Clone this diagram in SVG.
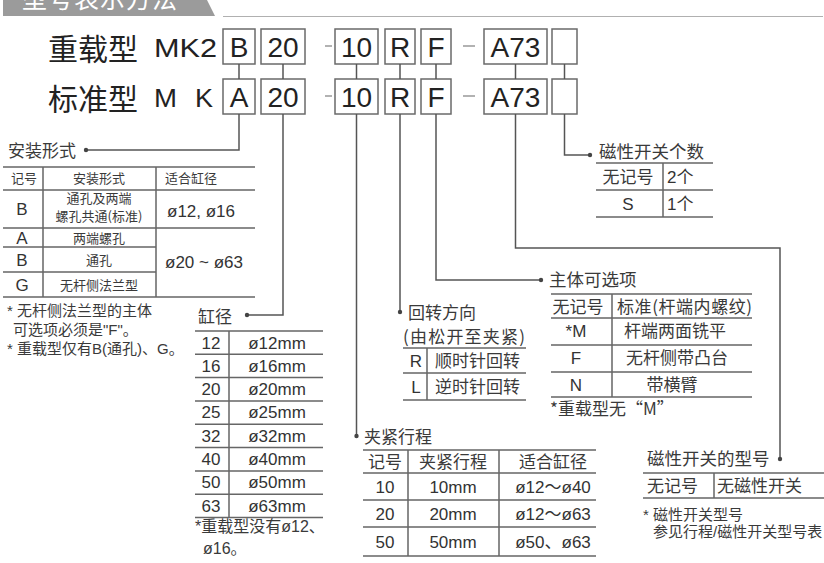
<svg xmlns="http://www.w3.org/2000/svg" width="824" height="563" viewBox="0 0 824 563">
<style>
.ln{stroke:#555;stroke-width:1.5;fill:none}
.tb{stroke:#666;stroke-width:1.5;fill:none}
.box{fill:#fff;stroke:#6a6a6a;stroke-width:1.5}
.dash{stroke:#999;stroke-width:1.5}
.bt{font-family:"Liberation Sans",Arial,sans-serif;font-size:28px;fill:#222;text-anchor:middle}
.big{font-family:"Noto Sans CJK SC",sans-serif;font-size:30px;fill:#222}
.lat{font-family:"Liberation Sans",Arial,sans-serif;font-size:26px;fill:#222}
.cj{font-family:"Noto Sans CJK SC",sans-serif;font-size:17px;fill:#3a3a3a}
.cjl{font-family:"Noto Sans CJK SC",sans-serif;font-size:17.5px;fill:#3a3a3a}
.sm{font-family:"Noto Sans CJK SC",sans-serif;font-size:13px;fill:#3a3a3a}
.nt{font-family:"Liberation Sans","Noto Sans CJK SC",sans-serif;font-size:15px;fill:#3a3a3a}
.nt16{font-family:"Liberation Sans","Noto Sans CJK SC",sans-serif;font-size:16px;fill:#3a3a3a}
.n{font-family:"Liberation Sans","Noto Sans CJK SC",sans-serif;font-size:17px;fill:#333}
.c{text-anchor:middle}
</style>
<defs>
<circle id="dot" r="2.2" fill="#444"/>
</defs>

<g id="header">
<path d="M3 0 H207 L215 16 H3 Z" fill="#9b9b9b"/>
<line x1="223" y1="16.5" x2="823" y2="16.5" stroke="#b0b0b0" stroke-width="1.2"/>
<text x="22" y="8" font-family="Noto Sans CJK SC,sans-serif" font-size="25" fill="#fff" textLength="155">型号表示方法</text>
</g>

<g id="code-row1">
<text class="big" x="48" y="60">重载型</text>
<text class="lat" x="154" y="57" textLength="63" lengthAdjust="spacingAndGlyphs">MK2</text>
<rect class="box" x="223" y="29" width="32" height="35"/><text class="bt" x="239" y="56.5">B</text>
<rect class="box" x="261" y="29" width="44" height="35"/><text class="bt" x="283" y="56.5">20</text>
<line class="dash" x1="325" y1="46" x2="332" y2="46"/>
<rect class="box" x="335" y="29" width="43" height="35"/><text class="bt" x="356.5" y="56.5">10</text>
<rect class="box" x="385" y="29" width="30" height="35"/><text class="bt" x="400" y="56.5">R</text>
<rect class="box" x="421" y="29" width="30" height="35"/><text class="bt" x="436" y="56.5">F</text>
<line class="dash" x1="463" y1="46" x2="475" y2="46"/>
<rect class="box" x="484" y="29" width="63" height="35"/><text class="bt" x="515.5" y="56.5">A73</text>
<rect class="box" x="552" y="29" width="25" height="35"/>
</g>

<g id="code-row2">
<text class="big" x="48" y="110">标准型</text>
<text class="lat" x="154" y="107" textLength="23" lengthAdjust="spacingAndGlyphs">M</text>
<text class="lat" x="195" y="107" textLength="18" lengthAdjust="spacingAndGlyphs">K</text>
<rect class="box" x="223" y="79" width="32" height="35"/><text class="bt" x="239" y="106.5">A</text>
<rect class="box" x="261" y="79" width="44" height="35"/><text class="bt" x="283" y="106.5">20</text>
<line class="dash" x1="325" y1="96" x2="332" y2="96"/>
<rect class="box" x="335" y="79" width="43" height="35"/><text class="bt" x="356.5" y="106.5">10</text>
<rect class="box" x="385" y="79" width="30" height="35"/><text class="bt" x="400" y="106.5">R</text>
<rect class="box" x="421" y="79" width="30" height="35"/><text class="bt" x="436" y="106.5">F</text>
<line class="dash" x1="463" y1="96" x2="475" y2="96"/>
<rect class="box" x="484" y="79" width="63" height="35"/><text class="bt" x="515.5" y="106.5">A73</text>
<rect class="box" x="552" y="79" width="25" height="35"/>
</g>

<g id="connectors">
<line class="ln" x1="239" y1="64" x2="239" y2="79"/>
<line class="ln" x1="283" y1="64" x2="283" y2="79"/>
<line class="ln" x1="356.5" y1="64" x2="356.5" y2="79"/>
<line class="ln" x1="400" y1="64" x2="400" y2="79"/>
<line class="ln" x1="436" y1="64" x2="436" y2="79"/>
<line class="ln" x1="515.5" y1="64" x2="515.5" y2="79"/>
<line class="ln" x1="564.5" y1="64" x2="564.5" y2="79"/>
<path class="ln" d="M239 114 V150 H86"/><use href="#dot" x="86" y="150"/>
<path class="ln" d="M283 114 V315 H247"/><use href="#dot" x="247" y="315"/>
<path class="ln" d="M356.5 114 V436"/><use href="#dot" x="356.5" y="436"/>
<path class="ln" d="M400 114 V312"/><use href="#dot" x="400" y="312"/>
<path class="ln" d="M436 114 V280 H541"/><use href="#dot" x="541" y="280"/>
<path class="ln" d="M515.5 114 V248 H780 V459"/><use href="#dot" x="780" y="459"/>
<path class="ln" d="M564.5 114 V155 H590"/><use href="#dot" x="590" y="155"/>
</g>

<g id="mounting">
<text class="cj" x="8" y="157">安装形式</text>
<path class="tb" d="M3 167 H255 M3 190 H255 M3 228 H255 M3 247 H156 M3 272 H156 M3 297 H255 M43 167 V297 M156 167 V297"/>
<text class="sm c" x="24" y="183">记号</text>
<text class="sm c" x="99" y="183">安装形式</text>
<text class="sm" x="165" y="183">适合缸径</text>
<text class="n c" x="22" y="215">B</text>
<text class="sm c" x="99" y="203">通孔及两端</text>
<text class="sm c" x="99" y="221">螺孔共通(标准)</text>
<text class="n" x="167" y="217">ø12, ø16</text>
<text class="n c" x="22" y="244">A</text>
<text class="sm c" x="99" y="243">两端螺孔</text>
<text class="n c" x="22" y="266">B</text>
<text class="sm c" x="99" y="265">通孔</text>
<text class="n c" x="22" y="291">G</text>
<text class="sm c" x="99" y="290">无杆侧法兰型</text>
<text class="n" x="165" y="268">ø20 ~ ø63</text>
<text class="nt" x="7" y="316">* 无杆侧法兰型的主体</text>
<text class="nt" x="13" y="335">可选项必须是"F"。</text>
<text class="nt" x="7" y="354">* 重载型仅有B(通孔)、G。</text>
</g>

<g id="bore">
<text class="cj" x="198" y="323">缸径</text>
<path class="tb" d="M195 331 H323 M195 354.3 H323 M195 377.6 H323 M195 401 H323 M195 424.3 H323 M195 447.6 H323 M195 471 H323 M195 494.3 H323 M195 517.6 H323 M229 331 V517.6"/>
<text class="n c" x="211" y="348.5">12</text><text class="n c" x="277" y="348.5">ø12mm</text>
<text class="n c" x="211" y="371.8">16</text><text class="n c" x="277" y="371.8">ø16mm</text>
<text class="n c" x="211" y="395.1">20</text><text class="n c" x="277" y="395.1">ø20mm</text>
<text class="n c" x="211" y="418.4">25</text><text class="n c" x="277" y="418.4">ø25mm</text>
<text class="n c" x="211" y="441.7">32</text><text class="n c" x="277" y="441.7">ø32mm</text>
<text class="n c" x="211" y="465">40</text><text class="n c" x="277" y="465">ø40mm</text>
<text class="n c" x="211" y="488.3">50</text><text class="n c" x="277" y="488.3">ø50mm</text>
<text class="n c" x="211" y="511.6">63</text><text class="n c" x="277" y="511.6">ø63mm</text>
<text class="nt16" x="195" y="532">*重载型没有ø12、</text>
<text class="nt16" x="203" y="554">ø16。</text>
</g>

<g id="rotation">
<text class="cj" x="408" y="319">回转方向</text>
<text class="cj" x="403" y="343" textLength="122">(由松开至夹紧)</text>
<path class="tb" d="M403 348 H526 M403 373 H526 M403 400 H526 M427 348 V400"/>
<text class="n c" x="416" y="367">R</text><text class="cj" x="435" y="367">顺时针回转</text>
<text class="n c" x="416" y="393">L</text><text class="cj" x="435" y="393">逆时针回转</text>
</g>

<g id="body-option">
<text class="cjl" x="549" y="286">主体可选项</text>
<path class="tb" d="M551 294 H752 M551 318 H752 M551 345 H752 M551 372 H752 M551 397 H752 M612 294 V397"/>
<text class="cj c" x="578" y="313">无记号</text>
<text class="cj" x="617" y="313" textLength="135">标准(杆端内螺纹)</text>
<text class="n c" x="576" y="337">*M</text><text class="cj c" x="675" y="337">杆端两面铣平</text>
<text class="n c" x="576" y="364">F</text><text class="cj c" x="677" y="364">无杆侧带凸台</text>
<text class="n c" x="576" y="391">N</text><text class="cj c" x="672" y="391">带横臂</text>
<text class="cj" x="550" y="415">*重载型无“M”</text>
</g>

<g id="switch-count">
<text class="cjl" x="599" y="158">磁性开关个数</text>
<path class="tb" d="M596 163 H713 M596 190 H713 M596 217 H713 M663 163 V217"/>
<text class="cj c" x="628" y="183">无记号</text><text class="n" x="667" y="183">2个</text>
<text class="n c" x="628" y="210">S</text><text class="n" x="667" y="210">1个</text>
</g>

<g id="stroke">
<text class="cj" x="364" y="443">夹紧行程</text>
<path class="tb" d="M363 450 H596 M363 473 H596 M363 500 H596 M363 527 H596 M363 556 H596 M408 450 V556 M499 450 V556"/>
<text class="cj c" x="385" y="468">记号</text><text class="cj c" x="453" y="468">夹紧行程</text><text class="cj c" x="553" y="468">适合缸径</text>
<text class="n c" x="385" y="492.5">10</text><text class="n c" x="453" y="492.5">10mm</text><text class="n c" x="553" y="492.5">ø12～ø40</text>
<text class="n c" x="385" y="519.5">20</text><text class="n c" x="453" y="519.5">20mm</text><text class="n c" x="553" y="519.5">ø12～ø63</text>
<text class="n c" x="385" y="547.5">50</text><text class="n c" x="453" y="547.5">50mm</text><text class="n c" x="553" y="547.5">ø50、ø63</text>
</g>

<g id="switch-type">
<text class="cjl" x="647" y="465">磁性开关的型号</text>
<path class="tb" d="M643 473 H824 M643 498 H824 M714 473 V498"/>
<text class="cj" x="647" y="492">无记号</text><text class="cj" x="717" y="492">无磁性开关</text>
<text class="nt" x="643" y="520">* 磁性开关型号</text>
<text class="nt" x="653" y="537">参见行程/磁性开关型号表</text>
</g>
</svg>
